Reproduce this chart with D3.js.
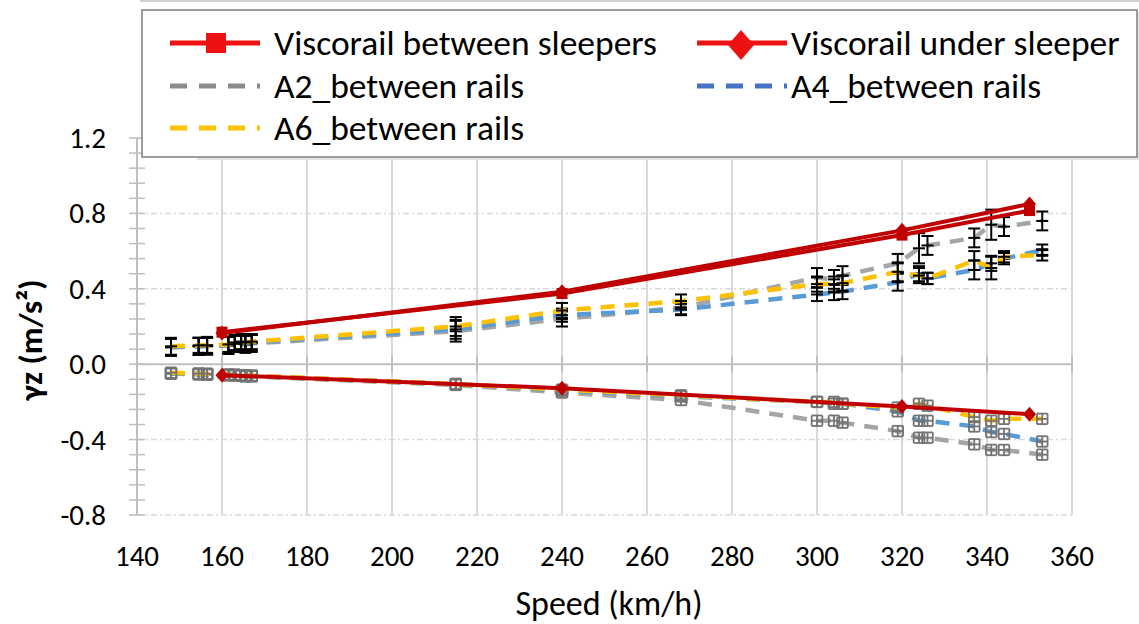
<!DOCTYPE html>
<html>
<head>
<meta charset="utf-8">
<script src="https://cdn.jsdelivr.net/npm/d3@7"></script>
<style>
  html, body { margin: 0; padding: 0; background: #fff; }
  svg { display: block; font-family: Carlito, Calibri, Lato, sans-serif; }
</style>
</head>
<body>
<svg id="chart" width="1139" height="624"></svg>
<script>
// ---- data -------------------------------------------------------------
// measured train passages (km/h) shared by the three accelerometers
const speeds = [148, 154.5, 156.5, 161.5, 163, 164.5, 165.5, 167, 215, 240, 268,
                300, 304, 306, 319, 324, 326, 337, 341, 344, 353];

// upward (positive) peak accelerations, m/s²
const a2Pos = [0.09, 0.095, 0.10, 0.10, 0.11, 0.11, 0.105, 0.11, 0.175, 0.24, 0.30,
               0.46, 0.45, 0.47, 0.535, 0.615, 0.63, 0.67, 0.74, 0.73, 0.76];
const a4Pos = [0.09, 0.095, 0.095, 0.10, 0.11, 0.115, 0.11, 0.115, 0.185, 0.26, 0.29,
               0.37, 0.38, 0.385, 0.435, 0.48, 0.455, 0.50, 0.535, 0.56, 0.605];
const a6Pos = [0.095, 0.10, 0.10, 0.105, 0.115, 0.12, 0.115, 0.12, 0.20, 0.285, 0.335,
               0.425, 0.425, 0.43, 0.49, 0.47, 0.455, 0.55, 0.51, 0.57, 0.58];

// spread of the positive peaks
const a2PosErr = [0.045, 0.045, 0.045, 0.045, 0.045, 0.045, 0.045, 0.045, 0.055, 0.04, 0.035,
                  0.05, 0.05, 0.05, 0.05, 0.08, 0.05, 0.05, 0.08, 0.05, 0.05];
const a4PosErr = [0.045, 0.045, 0.045, 0.045, 0.04, 0.04, 0.04, 0.04, 0.05, 0.035, 0.03,
                  0.035, 0.04, 0.04, 0.045, 0.04, 0.03, 0.05, 0.04, 0.03, 0.03];
const a6PosErr = [0.045, 0.04, 0.04, 0.04, 0.04, 0.04, 0.04, 0.04, 0.05, 0.04, 0.035,
                  0.04, 0.04, 0.04, 0.05, 0.04, 0.03, 0.05, 0.06, 0.03, 0.03];

// downward (negative) peak accelerations, m/s²
const a2Neg = [-0.05, -0.055, -0.055, -0.06, -0.06, -0.062, -0.065, -0.065, -0.11, -0.15, -0.19,
               -0.30, -0.30, -0.31, -0.355, -0.39, -0.39, -0.425, -0.455, -0.455, -0.48];
const a4Neg = [-0.05, -0.05, -0.055, -0.055, -0.058, -0.06, -0.06, -0.062, -0.105, -0.14, -0.17,
               -0.20, -0.21, -0.21, -0.25, -0.30, -0.30, -0.33, -0.36, -0.37, -0.41];
const a6Neg = [-0.045, -0.05, -0.05, -0.055, -0.055, -0.058, -0.06, -0.06, -0.105, -0.135, -0.165,
               -0.20, -0.20, -0.21, -0.23, -0.21, -0.22, -0.28, -0.30, -0.29, -0.29];
// spread of the negative peaks (acceleration, speed)
const negErrY = 0.028;
const negErrX = 1.25;

// simulated Viscorail response
const viscoSpeeds = [160, 240, 320, 350];
const betweenPos = [0.17, 0.375, 0.685, 0.815];
const underPos = [0.165, 0.385, 0.71, 0.85];
const underNeg = [-0.058, -0.127, -0.225, -0.265];

// axes
const xTicks = [140, 160, 180, 200, 220, 240, 260, 280, 300, 320, 340, 360];
const yTicks = [-0.8, -0.4, 0.0, 0.4, 0.8, 1.2];
const yMinorStep = 0.08;

const legendNames = ["Viscorail between sleepers", "Viscorail under sleeper",
                     "A2_between rails", "A4_between rails", "A6_between rails"];
const xTitle = "Speed (km/h)";
const yTitle = "γz (m/s²)";

// ---- drawing ----------------------------------------------------------
const svg = d3.select("#chart");
const x = d3.scaleLinear().domain([140, 360]).range([137, 1072]);
const y = d3.scaleLinear().domain([-0.8, 1.2]).range([515, 138]);

const gridColor = "#d9d9d9";
const axisColor = "#bfbfbf";
const colors = { a2: "#a5a5a5", a4: "#5b9bd5", a6: "#ffc000", visco: "#c00000" };

// outer frame line along the top
svg.append("line").attr("x1", 140).attr("x2", 1139).attr("y1", 1).attr("y2", 1)
  .attr("stroke", "#d0d0d0").attr("stroke-width", 2);

// vertical grid
svg.append("g").selectAll("line").data(xTicks.slice(1)).join("line")
  .attr("x1", d => x(d)).attr("x2", d => x(d))
  .attr("y1", y(1.2)).attr("y2", y(-0.8))
  .attr("stroke", gridColor).attr("stroke-width", 2);

// horizontal dash-dot grid
svg.append("g").selectAll("line").data(yTicks.filter(d => d !== 0)).join("line")
  .attr("x1", x(140)).attr("x2", x(360))
  .attr("y1", d => y(d)).attr("y2", d => y(d))
  .attr("stroke", gridColor).attr("stroke-width", 1.5)
  .attr("stroke-dasharray", "6,3,2,3");

// y axis line with minor and major ticks
svg.append("line").attr("x1", x(140)).attr("x2", x(140))
  .attr("y1", y(1.2)).attr("y2", y(-0.8))
  .attr("stroke", axisColor).attr("stroke-width", 2);
const yMinor = d3.range(0, Math.round(2.0 / yMinorStep) + 1).map(i => -0.8 + i * yMinorStep);
svg.append("g").selectAll("line").data(yMinor).join("line")
  .attr("x1", x(140) - 8).attr("x2", x(140) + 8)
  .attr("y1", d => y(d)).attr("y2", d => y(d))
  .attr("stroke", axisColor).attr("stroke-width", 1.5);

// zero line (x axis) with ticks
svg.append("line").attr("x1", x(140)).attr("x2", x(360))
  .attr("y1", y(0)).attr("y2", y(0))
  .attr("stroke", axisColor).attr("stroke-width", 2);
svg.append("g").selectAll("line").data(xTicks).join("line")
  .attr("x1", d => x(d)).attr("x2", d => x(d))
  .attr("y1", y(0) - 8).attr("y2", y(0) + 8)
  .attr("stroke", axisColor).attr("stroke-width", 2);

// tick labels
svg.append("g").selectAll("text").data(yTicks).join("text")
  .attr("x", 106).attr("y", d => y(d) + 10)
  .attr("text-anchor", "end").attr("font-size", 29).attr("fill", "#000")
  .text(d => d.toFixed(1));
svg.append("g").selectAll("text").data(xTicks).join("text")
  .attr("x", d => x(d)).attr("y", 566)
  .attr("text-anchor", "middle").attr("font-size", 29).attr("fill", "#000")
  .text(d => d);

// axis titles
svg.append("text").attr("x", 609).attr("y", 615)
  .attr("text-anchor", "middle").attr("font-size", 34).text(xTitle);
svg.append("text").attr("transform", "translate(42,340) rotate(-90)")
  .attr("text-anchor", "middle").attr("font-size", 33).attr("font-weight", "bold")
  .text(yTitle);

// measured series
const line = d3.line().x(d => x(d[0])).y(d => y(d[1]));
const zipPts = vals => speeds.map((s, i) => [s, vals[i]]);

const measured = [
  { key: "a2", pos: a2Pos, err: a2PosErr, neg: a2Neg },
  { key: "a4", pos: a4Pos, err: a4PosErr, neg: a4Neg },
  { key: "a6", pos: a6Pos, err: a6PosErr, neg: a6Neg }
];

measured.forEach(m => {
  const g = svg.append("g");
  [m.pos, m.neg].forEach(vals => {
    g.append("path").datum(zipPts(vals)).attr("d", line)
      .attr("fill", "none").attr("stroke", colors[m.key])
      .attr("stroke-width", 4.5).attr("stroke-dasharray", "14,10");
  });
  // positive peaks: vertical spread with caps
  const pb = g.append("g").attr("stroke", "#000").attr("stroke-width", 2);
  speeds.forEach((s, i) => {
    const cx = x(s), v = m.pos[i], e = m.err[i];
    pb.append("line").attr("x1", cx).attr("x2", cx).attr("y1", y(v + e)).attr("y2", y(v - e));
    pb.append("line").attr("x1", cx - 6).attr("x2", cx + 6).attr("y1", y(v + e)).attr("y2", y(v + e));
    pb.append("line").attr("x1", cx - 6).attr("x2", cx + 6).attr("y1", y(v - e)).attr("y2", y(v - e));
    pb.append("line").attr("x1", cx - 6).attr("x2", cx + 6).attr("y1", y(v)).attr("y2", y(v));
  });
  // negative peaks: spread in both directions with caps
  const nb = g.append("g").attr("stroke", "#737373").attr("stroke-width", 1.8);
  speeds.forEach((s, i) => {
    const v = m.neg[i];
    const x0 = x(s - negErrX), x1 = x(s + negErrX), cx = x(s);
    const y0 = y(v + negErrY), y1 = y(v - negErrY), cy = y(v);
    nb.append("line").attr("x1", cx).attr("x2", cx).attr("y1", y0).attr("y2", y1);
    nb.append("line").attr("x1", x0).attr("x2", x1).attr("y1", cy).attr("y2", cy);
    nb.append("line").attr("x1", x0).attr("x2", x1).attr("y1", y0).attr("y2", y0);
    nb.append("line").attr("x1", x0).attr("x2", x1).attr("y1", y1).attr("y2", y1);
    nb.append("line").attr("x1", x0).attr("x2", x0).attr("y1", y0).attr("y2", y1);
    nb.append("line").attr("x1", x1).attr("x2", x1).attr("y1", y0).attr("y2", y1);
  });
});

// Viscorail series
const vPts = vals => viscoSpeeds.map((s, i) => [s, vals[i]]);
const diamond = (g, cx, cy, hw, hh, fill) =>
  g.append("path").attr("d", `M${cx},${cy - hh}L${cx + hw},${cy}L${cx},${cy + hh}L${cx - hw},${cy}Z`)
    .attr("fill", fill);

const vg = svg.append("g");
[underPos, underNeg].forEach(vals => {
  vg.append("path").datum(vPts(vals)).attr("d", line)
    .attr("fill", "none").attr("stroke", colors.visco).attr("stroke-width", 4);
  vPts(vals).forEach(p => diamond(vg, x(p[0]), y(p[1]), 6.5, 7.5, colors.visco));
});
vg.append("path").datum(vPts(betweenPos)).attr("d", line)
  .attr("fill", "none").attr("stroke", colors.visco).attr("stroke-width", 4);
vg.selectAll("rect.sq").data(vPts(betweenPos)).join("rect").attr("class", "sq")
  .attr("x", d => x(d[0]) - 5.5).attr("y", d => y(d[1]) - 5.5)
  .attr("width", 11).attr("height", 11).attr("fill", colors.visco);

// ---- legend -----------------------------------------------------------
const lg = svg.append("g");
lg.append("rect").attr("x", 197).attr("y", 12).attr("width", 945).attr("height", 148)
  .attr("fill", "#e3e3e3");
lg.append("rect").attr("x", 142).attr("y", 10).attr("width", 995).attr("height", 147)
  .attr("fill", "#fff").attr("stroke", "#7f7f7f").attr("stroke-width", 1.5);

const legendColors = ["#ee1111", "#ee1111", "#8c8c8c", "#4472c4", "#ffc000"];
const legendPos = [[170, 43], [697, 43], [170, 86], [697, 86], [170, 128]];
legendNames.forEach((name, i) => {
  const [lx, ly] = legendPos[i];
  const sample = lg.append("line").attr("x1", lx).attr("x2", lx + 90)
    .attr("y1", ly).attr("y2", ly)
    .attr("stroke", legendColors[i]).attr("stroke-width", 5);
  if (i >= 2) sample.attr("stroke-dasharray", "17,12");
  if (i === 0) lg.append("rect").attr("x", lx + 36).attr("y", ly - 10)
    .attr("width", 20).attr("height", 20).attr("fill", legendColors[i]);
  if (i === 1) diamond(lg, lx + 44, ly + 2, 13, 15, legendColors[i]);
  lg.append("text").attr("x", lx + (lx > 400 ? 94 : 104)).attr("y", ly + 12)
    .attr("font-size", 35.5).attr("fill", "#000").text(name);
});
</script>
</body>
</html>
